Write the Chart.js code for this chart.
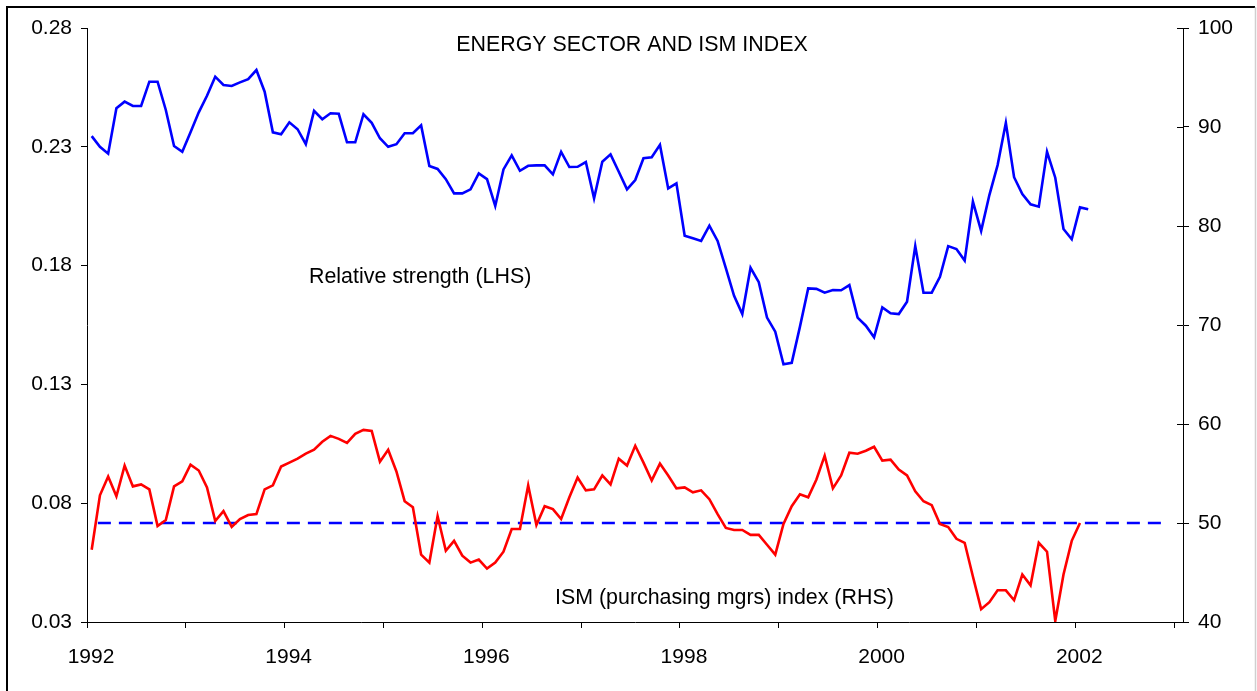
<!DOCTYPE html>
<html>
<head>
<meta charset="utf-8">
<script src="https://cdn.jsdelivr.net/npm/chart.js@4.4.1/dist/chart.umd.min.js"></script>
<style>
html,body{margin:0;padding:0;background:#fff;}
#wrap{position:relative;width:1257px;height:691px;}
canvas{display:block;}
</style>
</head>
<body>
<div id="wrap"><canvas id="c" width="1257" height="691"></canvas></div>
<script>
// ---- data ----
const startYear = 1992;
const monthOffset = 0.57; // observation point within each month
const relStrength = [
0.2345,0.2300,0.2271,0.2462,0.2490,0.2472,0.2472,0.2574,0.2574,0.2455,0.2303,0.2279,
0.2361,0.2445,0.2515,0.2595,0.2560,0.2556,0.2571,0.2585,0.2623,0.2532,0.2361,0.2353,
0.2403,0.2374,0.2311,0.2451,0.2416,0.2441,0.2439,0.2319,0.2319,0.2437,0.2401,0.2336,
0.2300,0.2311,0.2357,0.2357,0.2390,0.2219,0.2207,0.2164,0.2104,0.2104,0.2121,0.2188,
0.2164,0.2051,0.2205,0.2264,0.2199,0.2220,0.2222,0.2222,0.2184,0.2279,0.2215,0.2216,
0.2236,0.2083,0.2237,0.2268,0.2195,0.2121,0.2160,0.2252,0.2256,0.2308,0.2125,0.2146,
0.1926,0.1915,0.1904,0.1968,0.1904,0.1789,0.1673,0.1596,0.1791,0.1730,0.1581,0.1522,
0.1385,0.1391,0.1543,0.1704,0.1702,0.1686,0.1697,0.1696,0.1718,0.1581,0.1547,0.1498,
0.1624,0.1599,0.1596,0.1648,0.1882,0.1686,0.1686,0.1753,0.1882,0.1870,0.1821,0.2069,
0.1946,0.2097,0.2223,0.2401,0.2172,0.2101,0.2058,0.2048,0.2279,0.2170,0.1954,0.1911,
0.2045,0.2037
];
const ismIndex = [
47.3,52.8,54.7,52.7,55.8,53.7,53.9,53.4,49.7,50.3,53.7,54.2,
55.9,55.3,53.6,50.2,51.2,49.6,50.4,50.8,50.9,53.4,53.8,55.7,
56.1,56.5,57.0,57.4,58.2,58.8,58.5,58.1,59.0,59.4,59.3,56.2,
57.4,55.2,52.2,51.6,46.8,46.0,50.7,47.2,48.2,46.7,46.0,46.3,
45.4,46.0,47.1,49.4,49.4,53.8,49.8,51.7,51.4,50.4,52.6,54.6,
53.3,53.4,54.8,53.9,56.5,55.8,57.8,56.1,54.3,56.0,54.8,53.5,
53.6,53.1,53.3,52.4,50.9,49.5,49.3,49.3,48.8,48.8,47.8,46.8,
49.9,51.7,52.9,52.6,54.4,56.8,53.5,54.8,57.1,57.0,57.3,57.7,
56.3,56.4,55.4,54.8,53.2,52.2,51.8,49.9,49.6,48.4,48.0,44.6,
41.3,42.0,43.2,43.2,42.2,44.8,43.7,48.0,47.1,40.1,44.8,48.2,
50.0
];
const ismNeutral = 50;
const neutralFrom = 1992.11, neutralTo = 2002.92;
const xYears = [1992,1993,1994,1995,1996,1997,1998,1999,2000,2001,2002,2003];
const xLabelYears = [1992,1994,1996,1998,2000,2002];
const leftTicks = [0.03,0.08,0.13,0.18,0.23,0.28];
const rightTicks = [40,50,60,70,80,90,100];
const titleText = 'ENERGY SECTOR AND ISM INDEX';
const rsLabel = 'Relative strength (LHS)';
const ismLabel = 'ISM (purchasing mgrs) index (RHS)';

const monthX = i => startYear + (i + monthOffset) / 12;
const rsPts = relStrength.map((v,i)=>({x:monthX(i),y:v}));
const ismPts = ismIndex.map((v,i)=>({x:monthX(i),y:v}));
const neutralPts = [{x:neutralFrom,y:ismNeutral},{x:neutralTo,y:ismNeutral}];

const FONT = '"Liberation Sans", Arial, Helvetica, sans-serif';

const decor = {
  id:'decor',
  beforeDraw(chart){
    const c = chart.ctx;
    c.save(); c.fillStyle='#fff'; c.fillRect(0,0,chart.width,chart.height); c.restore();
  },
  afterDraw(chart){
    const c = chart.ctx;
    const yR = chart.scales.yR;
    c.save();
    // inward part of right-axis ticks
    c.strokeStyle='#000'; c.lineWidth=1;
    rightTicks.forEach(t=>{
      const y = Math.round(yR.getPixelForValue(t))+0.5;
      c.beginPath(); c.moveTo(yR.left-6,y); c.lineTo(yR.left,y); c.stroke();
    });
    // texts
    c.fillStyle='#000';
    c.font='21.4px '+FONT;
    c.textBaseline='middle';
    c.textAlign='center';
    c.fillText(titleText, 632, 45);
    c.textAlign='left';
    c.fillText(rsLabel, 309, 277);
    c.fillText(ismLabel, 555, 598);
    // frame
    c.strokeStyle='#000'; c.lineWidth=2;
    c.beginPath(); c.moveTo(7,691); c.lineTo(7,7); c.lineTo(1255,7); c.stroke();
    c.strokeStyle='#cfcfcf'; c.lineWidth=1.5;
    c.beginPath(); c.moveTo(1255.5,7); c.lineTo(1255.5,691); c.stroke();
    c.restore();
  }
};

new Chart(document.getElementById('c'), {
  type:'line',
  data:{datasets:[
    {label:rsLabel, data:rsPts, yAxisID:'yL', borderColor:'#0000ff', borderWidth:2.6, pointRadius:0, tension:0, fill:false},
    {label:ismLabel, data:ismPts, yAxisID:'yR', borderColor:'#ff0000', borderWidth:2.6, pointRadius:0, tension:0, fill:false},
    {label:'ISM 50', data:neutralPts, yAxisID:'yR', borderColor:'#0000ff', borderWidth:2.4, borderDash:[13,8], pointRadius:0, fill:false}
  ]},
  plugins:[decor],
  options:{
    responsive:false, animation:false, devicePixelRatio:1,
    layout:{padding:{top:28,left:0,right:0,bottom:0}},
    plugins:{legend:{display:false}, tooltip:{enabled:false}, title:{display:false}},
    scales:{
      x:{type:'linear', min:1992, max:2003.09,
        afterBuildTicks:s=>{s.ticks = xYears.map(v=>({value:v}));},
        afterFit:s=>{s.height=69;},
        ticks:{autoSkip:false, maxRotation:0, labelOffset:4, padding:17, color:'#000', font:{family:FONT,size:21},
          callback:v=>xLabelYears.includes(v)?String(v):''},
        grid:{drawOnChartArea:false, tickLength:6, color:'#000', lineWidth:1},
        border:{display:true,color:'#000',width:1}
      },
      yL:{type:'linear', position:'left', min:0.03, max:0.28,
        afterBuildTicks:s=>{s.ticks = leftTicks.map(v=>({value:v}));},
        afterFit:s=>{s.width=87;},
        ticks:{padding:9, color:'#000', font:{family:FONT,size:21}, callback:v=>v.toFixed(2)},
        grid:{drawOnChartArea:false, tickLength:6, color:'#000', lineWidth:1},
        border:{display:true,color:'#000',width:1}
      },
      yR:{type:'linear', position:'right', min:40, max:100,
        afterBuildTicks:s=>{s.ticks = rightTicks.map(v=>({value:v}));},
        afterFit:s=>{s.width=74;},
        ticks:{padding:9, color:'#000', font:{family:FONT,size:21}},
        grid:{drawOnChartArea:false, tickLength:6, color:'#000', lineWidth:1},
        border:{display:true,color:'#000',width:1}
      }
    }
  }
});
</script>
</body>
</html>
